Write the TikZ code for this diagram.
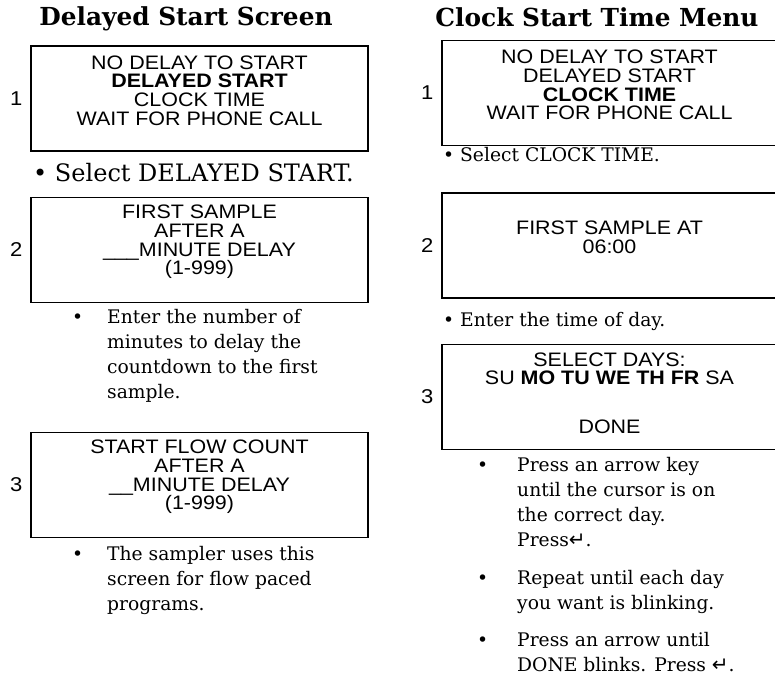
\documentclass[tikz,border=0pt]{standalone}
\usepackage{fontspec}
\setmainfont{DejaVu Serif}
\newfontfamily\screenfont{Liberation Sans}[FakeStretch=1.1]
\newfontfamily\keyfont{DejaVu Sans}
\usetikzlibrary{positioning}

\newcommand{\enterkey}{{\keyfont\fontsize{20}{20}\selectfont ↵}}

\begin{document}
\begin{tikzpicture}[x=1pt, y=-1pt,
    screen/.style={draw, line width=1.1pt, minimum width=337pt, minimum height=105pt, inner sep=0pt},
    screentext/.style={align=center, inner sep=0pt, font=\screenfont\fontsize{19.5}{18.6}\selectfont},
    stepnum/.style={font=\screenfont\fontsize{20}{20}\selectfont, inner sep=0pt},
    heading/.style={font=\bfseries\fontsize{24.8}{26}\selectfont, inner sep=0pt},
    note/.style={anchor=base west, inner sep=0pt, font=\fontsize{18.7}{25}\selectfont}]

    \path[use as bounding box, clip] (0,0) rectangle (775,681);

    % ================= DELAYED START SCREEN =================
    \node[heading] (dtitle) at (186,19) {Delayed Start Screen};

    % Screen 1
    \node[screen] (d1) at (199.5,98.5) {};
    \node[screentext] (d1t) at ([yshift=8pt]d1.center) {NO DELAY TO START\\\textbf{DELAYED START}\\CLOCK TIME\\WAIT FOR PHONE CALL};
    \node[stepnum, left=8pt of d1] (d1n) {1};
    \node[note, font=\fontsize{24}{25}\selectfont] (d1b) at (33,181) {\textbullet\ Select DELAYED START.};

    % Screen 2
    \node[screen] (d2) at (199.5,250) {};
    \node[screentext] (d2t) at ([yshift=8pt]d2.center) {FIRST SAMPLE\\AFTER A\\\_\_\_MINUTE DELAY\\(1-999)};
    \node[stepnum, left=8pt of d2] (d2n) {2};
    \node[note] (d2b) at (72,323) {\begin{tabular}[t]{@{}p{35pt}@{}l@{}}\textbullet & Enter the number of\\ & minutes to delay the\\ & countdown to the first\\ & sample.\end{tabular}};

    % Screen 3
    \node[screen] (d3) at (199.5,485) {};
    \node[screentext] (d3t) at ([yshift=8pt]d3.center) {START FLOW COUNT\\AFTER A\\\_\_MINUTE DELAY\\(1-999)};
    \node[stepnum, left=8pt of d3] (d3n) {3};
    \node[note] (d3b) at (72,560) {\begin{tabular}[t]{@{}p{35pt}@{}l@{}}\textbullet & The sampler uses this\\ & screen for flow paced\\ & programs.\end{tabular}};

    % ================= CLOCK START TIME MENU =================
    \node[heading] (ctitle) at (597,17) {Clock Start Time Menu};

    % Screen 1
    \node[screen, minimum width=335pt] (c1) at (609.5,93) {};
    \node[screentext] (c1t) at ([yshift=8pt]c1.center) {NO DELAY TO START\\DELAYED START\\\textbf{CLOCK TIME}\\WAIT FOR PHONE CALL};
    \node[stepnum, left=8pt of c1] (c1n) {1};
    \node[note] (c1b) at (443,161) {\textbullet\ Select CLOCK TIME.};

    % Screen 2
    \node[screen, minimum width=335pt] (c2) at (609.5,245.5) {};
    \node[screentext] (c2t) at ([yshift=8pt]c2.center) {FIRST SAMPLE AT\\06:00};
    \node[stepnum, left=8pt of c2] (c2n) {2};
    \node[note] (c2b) at (443,326) {\textbullet\ Enter the time of day.};

    % Screen 3
    \node[screen, minimum width=335pt] (c3) at (609.5,397) {};
    \node[screentext] (c3t) at ([yshift=4pt]c3.center) {SELECT DAYS:\\SU \textbf{MO TU WE TH FR} SA\\[30pt]DONE};
    \node[stepnum, left=8pt of c3] (c3n) {3};
    \node[note] (c3a) at (477,471) {\begin{tabular}[t]{@{}p{40pt}@{}l@{}}\textbullet & Press an arrow key\\ & until the cursor is on\\ & the correct day.\\ & Press\enterkey.\end{tabular}};
    \node[note] (c3b) at (477,584) {\begin{tabular}[t]{@{}p{40pt}@{}l@{}}\textbullet & Repeat until each day\\ & you want is blinking.\end{tabular}};
    \node[note] (c3c) at (477,646) {\begin{tabular}[t]{@{}p{40pt}@{}l@{}}\textbullet & Press an arrow until\\ & DONE blinks. Press \enterkey.\end{tabular}};

\end{tikzpicture}
\end{document}
